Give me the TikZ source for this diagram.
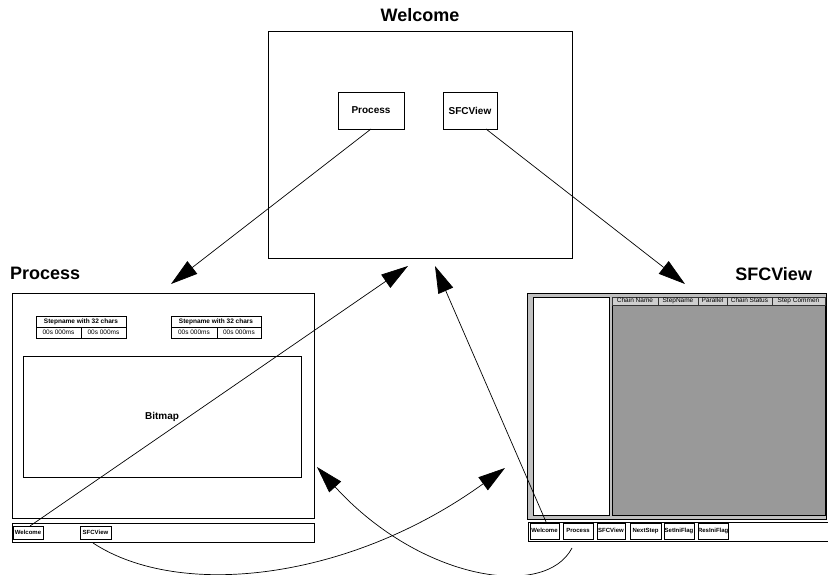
\documentclass[tikz,border=0pt]{standalone}
\usepackage{fontspec}
\setmainfont{Liberation Sans}
\usetikzlibrary{arrows.meta}
\definecolor{winbg}{HTML}{C0C0C0}
\definecolor{darkarea}{HTML}{999999}
\definecolor{hdrbg}{HTML}{CFCFCF}
\begin{document}
\begin{tikzpicture}[x=1pt,y=-1pt,
  every node/.style={inner sep=0pt, outer sep=0pt},
  title/.style={font=\fontsize{18}{20}\selectfont\bfseries},
  win/.style={draw=black, line width=0.9pt, fill=white, anchor=north west},
  bigbtn/.style={draw=black, line width=0.8pt, fill=white, anchor=north west, font=\fontsize{10}{12}\selectfont\bfseries},
  cell/.style={draw=black, line width=0.6pt, fill=white, anchor=north west, minimum height=11pt, text height=5pt, text depth=1.3pt, font=\fontsize{6.5}{7}\selectfont},
  hcell/.style={cell, font=\fontsize{6.5}{7}\selectfont\bfseries},
  colhdr/.style={draw=black!80, line width=0.5pt, fill=hdrbg, anchor=north west, minimum height=8pt, text height=4.7pt, text depth=1.2pt, font=\fontsize{6.5}{7}\selectfont},
  bar/.style={draw=black, line width=0.9pt, fill=white, anchor=north west, minimum height=19pt},
  smallbtn/.style={draw=black, line width=0.7pt, fill=white, anchor=north west, text height=4.4pt, text depth=1.2pt, font=\fontsize{6}{6.5}\selectfont\bfseries},
  conn/.style={line width=0.7pt, -{Triangle[length=27pt,width=16pt]}}]
\useasboundingbox (0,0) rectangle (828,575);

% ---------- Welcome window ----------
\node[title] (wtitle) at (420,15) {Welcome};
\node[win, minimum width=304pt, minimum height=227pt] (wwin) at (268,31) {};
\node[bigbtn, minimum width=66pt, minimum height=37pt] (wp) at (338,92) {Process};
\node[bigbtn, minimum width=54pt, minimum height=37pt] (ws) at (443,92) {SFCView};

% ---------- Process window ----------
\node[title, anchor=west] (ptitle) at (10,273) {Process};
\node[win, minimum width=302pt, minimum height=225pt] (pwin) at (12,293) {};
% step tables
\node[hcell, minimum width=90pt] (s1h) at (36,316) {Stepname with 32 chars};
\node[cell, minimum width=45pt] (s1a) at (36,327) {00s 000ms};
\node[cell, minimum width=45pt] (s1b) at (81,327) {00s 000ms};
\node[hcell, minimum width=90pt] (s2h) at (171,316) {Stepname with 32 chars};
\node[cell, minimum width=46pt] (s2a) at (171,327) {00s 000ms};
\node[cell, minimum width=44pt] (s2b) at (217,327) {00s 000ms};
% bitmap
\node[win, minimum width=278pt, minimum height=121pt, font=\fontsize{10}{12}\selectfont\bfseries] (bmp) at (23,356) {Bitmap};
% bottom bar
\node[bar, minimum width=302pt] (pbar) at (12,523) {};
\node[smallbtn, minimum width=30pt, minimum height=13pt] (pw) at (13,526) {Welcome};
\node[smallbtn, minimum width=31pt, minimum height=13pt] (psv) at (80,526) {SFCView};

% ---------- SFCView window ----------
\node[title, anchor=east] (stitle) at (812,274) {SFCView};
\node[win, fill=winbg, minimum width=299pt, minimum height=226pt] (swin) at (527,293) {};
\node[win, line width=0.8pt, minimum width=76pt, minimum height=218pt] (stree) at (533,297) {};
\node[win, line width=0.8pt, fill=darkarea, minimum width=213pt, minimum height=218pt] (sgrid) at (612,297) {};
\node[colhdr, minimum width=46pt] (h1) at (612,297) {Chain Name};
\node[colhdr, minimum width=40pt] (h2) at (658,297) {StepName};
\node[colhdr, minimum width=29pt] (h3) at (698,297) {Parallel};
\node[colhdr, minimum width=45pt] (h4) at (727,297) {Chain Status};
\node[colhdr, minimum width=53pt] (h5) at (772,297) {Step Commen};
% bottom bar
\node[bar, minimum width=300pt] (sbar) at (528,522) {};
\node[smallbtn, minimum width=29pt, minimum height=16pt] (sw) at (530,523) {Welcome};
\node[smallbtn, minimum width=30pt, minimum height=16pt] (sp) at (563,523) {Process};
\node[smallbtn, minimum width=28pt, minimum height=16pt] (ss) at (597,523) {SFCView};
\node[smallbtn, minimum width=31pt, minimum height=16pt] (sn) at (630,523) {NextStep};
\node[smallbtn, minimum width=30pt, minimum height=16pt] (ssi) at (664,523) {SetIniFlag};
\node[smallbtn, minimum width=30pt, minimum height=16pt] (sri) at (698,523) {ResIniFlag};

% ---------- connector end points ----------
\coordinate (t1) at (171,284);
\coordinate (t2) at (685,284);
\coordinate (t3) at (408,266);
\coordinate (t4) at (435,266);
\coordinate (c5s) at (93,543);
\coordinate (t5) at (505,468);
\coordinate (c6s) at (572,548);
\coordinate (t6) at (317,467);

% ---------- connectors ----------
\draw[conn] (wp.south) -- (t1);
\draw[conn] ([xshift=-11pt]ws.south east) -- (t2);
\draw[conn] ([xshift=2pt]pw.north) -- (t3);
\draw[conn] ([xshift=2pt]sw.north) -- (t4);
\draw[conn] (c5s) .. controls (180,600) and (350,580) .. (t5);
\draw[conn] (c6s) .. controls (545,600) and (420,580) .. (t6);
\end{tikzpicture}
\end{document}
